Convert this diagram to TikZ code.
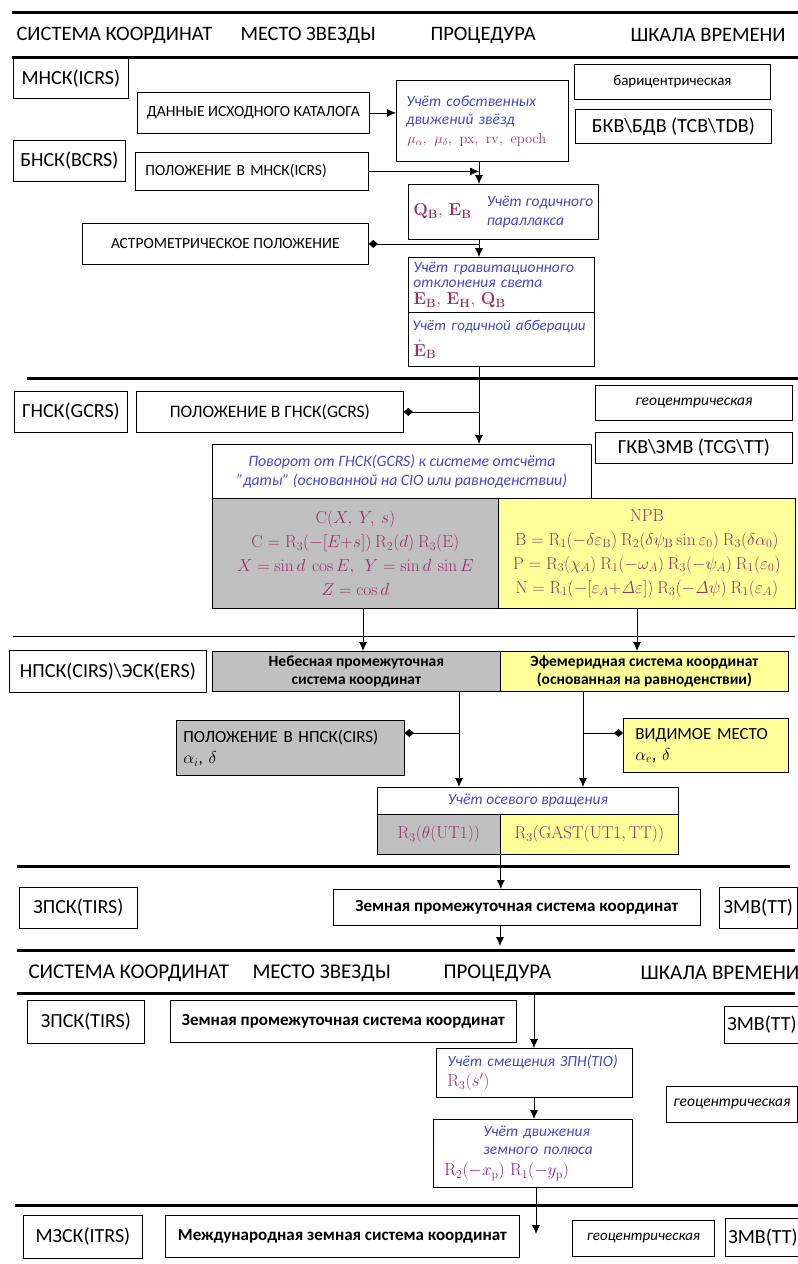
\documentclass[tikz,border=0pt]{standalone}
\usepackage[no-math]{fontspec}
\setmainfont{Carlito}
\usepackage{amsmath}
\usetikzlibrary{arrows.meta,calc}
\definecolor{formula}{HTML}{993366}
\definecolor{polar}{HTML}{8B1A8B}
\definecolor{procblue}{HTML}{4545D0}
\definecolor{cioGray}{HTML}{C0C0C0}
\definecolor{eqYellow}{HTML}{FFFF99}
\newcommand{\proc}[1]{{\color{procblue}\itshape #1}}
\newcommand{\frm}[1]{{\color{formula}#1}}
\newcommand{\fs}[1]{\fontsize{#1}{1.25\dimexpr#1pt\relax}\selectfont}
\tikzset{
  box/.style 2 args={draw, line width=0.8pt, anchor=north west,
    minimum width=#1, minimum height=#2, inner sep=3pt, align=center},
  rule/.style={line width=3pt},
  arr/.style={-{Latex[length=9pt,width=8pt]}, line width=0.8pt},
  dia/.style={{Diamond[length=9pt,width=8pt]}-, line width=0.8pt},
  head/.style={anchor=west, font=\fs{20.5}},
  big/.style={font=\fs{20}},
  caps/.style={font=\fs{15.5}},
}

\begin{document}
\begin{tikzpicture}[x=1pt,y=-1pt]
  \useasboundingbox (0,0) rectangle (798,1264);
  % rules
  \draw[rule] (12,12) -- (798,12);
  \draw[rule] (12,57) -- (798,57);
  \draw[rule] (27,378) -- (798,378);
  \draw[line width=1pt] (13,636) -- (795,636);
  \draw[rule] (17,866) -- (790,866);
  \draw[rule] (17,950) -- (795,950);
  \draw[rule] (17,993) -- (795,993);
  \draw[rule] (15,1205) -- (798,1205);
  % headers
  \node[head] (h1a) at (13,35) {СИСТЕМА КООРДИНАТ};
  \node[head] (h1b) at (237,35) {МЕСТО ЗВЕЗДЫ};
  \node[head] (h1c) at (427,35) {ПРОЦЕДУРА};
  \node[head] (h1d) at (627,35) {ШКАЛА ВРЕМЕНИ};
  \node[head, font=\fs{21}] (h2a) at (25,973) {СИСТЕМА КООРДИНАТ};
  \node[head, font=\fs{21}] (h2b) at (249,973) {МЕСТО ЗВЕЗДЫ};
  \node[head, font=\fs{21}] (h2c) at (440,973) {ПРОЦЕДУРА};
  \node[head, font=\fs{21}] (h2d) at (637,973) {ШКАЛА ВРЕМЕНИ};

  % barycentric part
  \node[box={115}{40}, big] (icrs) at (13,58) {МНСК(ICRS)};
  \node[box={112}{41}, big] (bcrs) at (13,140) {БНСК(BCRS)};
  \node[box={232}{41}, caps] (cat) at (137,92) {ДАННЫЕ ИСХОДНОГО КАТАЛОГА};
  \node[box={233}{38}, caps, align=left, text width=213, inner sep=10pt] (posm) at (135,152) {ПОЛОЖЕНИЕ В МНСК(ICRS)};
  \node[box={286}{41}, caps] (astro) at (82,223) {АСТРОМЕТРИЧЕСКОЕ ПОЛОЖЕНИЕ};
  \node[box={172}{81}, font=\fs{15.5}, align=left, text width=152, inner sep=10pt] (pm) at (396,80)
    {\proc{Учёт собственных}\\[-1pt]\proc{движений звёзд}\\[-1pt]
     \hspace*{1pt}\frm{\fs{14}$\mu_{\alpha},\ \mu_{\delta},\ \mathrm{px},\ \mathrm{rv},\ \mathrm{epoch}$}};
  \node[box={190}{55}, font=\fs{15.5}] (qb) at (408,184)
    {\frm{\fs{17}$\mathbf{Q}_{\mathbf{B}},\,\mathbf{E}_{\mathbf{B}}$}\quad
     \proc{\begin{tabular}{@{}l@{}}Учёт годичного\\параллакса\end{tabular}}};
  \node[box={186}{55}, font=\fs{15.5}, align=left, text width=182, inner sep=2pt] (grav) at (408,257)
    {\hspace*{3pt}\proc{Учёт гравитационного}\\[-4pt]\hspace*{3pt}\proc{отклонения света}\\[-2pt]
     \hspace*{3pt}\frm{\fs{17}$\mathbf{E}_{\mathbf{B}},\,\mathbf{E}_{\mathbf{H}},\,\mathbf{Q}_{\mathbf{B}}$}};
  \node[box={186}{54}, font=\fs{15}, align=left, text width=182, inner sep=2pt] (aber) at (408,312)
    {\hspace*{2pt}\proc{Учёт годичной абберации}\\[7pt]
     \hspace*{3pt}\frm{\fs{17}$\dot{\mathbf{E}}_{\mathbf{B}}$}};
  \node[box={196}{35}, font=\fs{15}] (bary) at (574,64) {барицентрическая};
  \node[box={196}{34}, big] (tcb) at (575,109) {БКВ\textbackslash БДВ (TCB\textbackslash TDB)};

  % geocentric part
  \node[box={113}{41}, big] (gcrs) at (14,391) {ГНСК(GCRS)};
  \node[box={267}{41}, font=\fs{17.5}] (posg) at (136,391) {ПОЛОЖЕНИЕ В ГНСК(GCRS)};
  \node[box={197}{35}, font=\fs{15.5}\itshape] (geo1) at (595,385) {геоцентрическая};
  \node[box={197}{31}, big] (tcg) at (595,432) {ГКВ\textbackslash ЗМВ (TCG\textbackslash TT)};
  \node[box={379}{54}, font=\fs{15.8}] (rot) at (212,444)
    {\proc{Поворот от ГНСК(GCRS) к системе отсчёта}\\
     \proc{"даты" (основанной на CIO или равноденствии)}};
  \node[box={286}{110}, fill=cioGray, font=\fontsize{16.5}{24}\selectfont] (cmat) at (212,498)
    {\frm{$\mathrm{C}(X,\ Y,\ s)$}\\
     \frm{$\mathrm{C}=\mathrm{R}_3(-[E{+}s])\ \mathrm{R}_2(d)\ \mathrm{R}_3(\mathrm{E})$}\\
     \frm{$X=\sin d\ \cos E,\ \ Y=\sin d\ \sin E$}\\
     \frm{$Z=\cos d$}};
  \node[box={297}{110}, fill=eqYellow, font=\fontsize{17.5}{24}\selectfont, inner sep=1pt] (npb) at (498,498)
    {\frm{$\mathrm{NPB}$}\\
     \frm{$\mathrm{B}=\mathrm{R}_1(-\delta\varepsilon_{\mathrm{B}})\ \mathrm{R}_2(\delta\psi_{\mathrm{B}}\sin\varepsilon_0)\ \mathrm{R}_3(\delta\alpha_0)$}\\
     \frm{$\mathrm{P}=\mathrm{R}_3(\chi_A)\ \mathrm{R}_1(-\omega_A)\ \mathrm{R}_3(-\psi_A)\ \mathrm{R}_1(\varepsilon_0)$}\\
     \frm{$\mathrm{N}=\mathrm{R}_1(-[\varepsilon_A{+}\mathit{\Delta}\varepsilon])\ \mathrm{R}_3(-\mathit{\Delta}\psi)\ \mathrm{R}_1(\varepsilon_A)$}};

  % intermediate part
  \node[box={197}{42}, big] (cirs) at (9,650) {НПСК(CIRS)\textbackslash ЭСК(ERS)};
  \node[box={288}{40}, fill=cioGray, font=\fs{15.5}\bfseries] (neb) at (212,651)
    {Небесная промежуточная\\[-2pt]система координат};
  \node[box={288}{40}, fill=eqYellow, font=\fs{15.5}\bfseries] (eph) at (500,651)
    {Эфемеридная система координат\\[-2pt](основанная на равноденствии)};
  \node[box={228}{55}, fill=cioGray, font=\fs{17}, align=left, text width=214, inner sep=7pt] (posc) at (176,720)
    {ПОЛОЖЕНИЕ В НПСК(CIRS)\\ $\alpha_i$, $\delta$};
  \node[box={165}{54}, fill=eqYellow, font=\fs{17}, align=left, text width=149, inner sep=8pt] (vis) at (623,718)
    {\hspace*{4pt}ВИДИМОЕ МЕСТО\\ \hspace*{4pt}$\alpha_e$, $\delta$};
  \node[box={301}{27}, font=\fs{15.5}] (axis) at (377,787) {\proc{Учёт осевого вращения}};
  \node[box={123}{40}, fill=cioGray, font=\fs{17}] (r3a) at (377,814)
    {\frm{$\mathrm{R}_3(\theta(\mathrm{UT1}))$}};
  \node[box={178}{40}, fill=eqYellow, font=\fs{17.5}, inner sep=1pt] (r3b) at (500,814)
    {\frm{$\mathrm{R}_3(\mathrm{GAST}(\mathrm{UT1,TT}))$}};

  % terrestrial part
  \node[box={118}{41}, big] (tirs1) at (19,887) {ЗПСК(TIRS)};
  \node[box={367}{36}, font=\fs{17}\bfseries] (zem1) at (333,889) {Земная промежуточная система координат};
  \node[box={78}{41}, big] (zmv1) at (719,887) {ЗМВ(TT)};
  \node[box={117}{43}, big] (tirs2) at (27,1000) {ЗПСК(TIRS)};
  \node[box={346}{42}, font=\fs{17}\bfseries] (zem2) at (170,1000) {Земная промежуточная система координат};
  \node[box={73}{37}, big] (zmv2) at (724,1006) {ЗМВ(TT)};
  \node[box={196}{49}, font=\fs{15.5}, align=left, text width=186, inner sep=5pt] (tio) at (436,1048)
    {\hspace*{6pt}\proc{Учёт смещения ЗПН(TIO)}\\[1pt]
     \hspace*{6pt}\frm{\fs{18}$\mathrm{R}_3(s')$}};
  \node[box={199}{68}, font=\fs{15.5}, align=left, text width=187, inner sep=6pt] (pol) at (433,1119)
    {\hspace*{44pt}\proc{Учёт движения}\\[-2pt]\hspace*{44pt}\proc{земного полюса}\\[2pt]
     \hspace*{5pt}{\color{polar}\fs{17}$\mathrm{R}_2(-x_{\mathrm{p}})\ \mathrm{R}_1(-y_{\mathrm{p}})$}};
  \node[box={131}{36}, font=\fs{15.5}\itshape] (geo2) at (666,1086) {геоцентрическая};
  \node[box={119}{43}, big] (itrs) at (23,1215) {МЗСК(ITRS)};
  \node[box={354}{42}, font=\fs{17}\bfseries] (intl) at (165,1215) {Международная земная система координат};
  \node[box={142}{36}, font=\fs{15}\itshape] (geo3) at (572,1220) {геоцентрическая};
  \node[box={72}{38}, big] (zmv3) at (725,1218) {ЗМВ(TT)};

  % columns of the procedure line
  \coordinate (c1) at (479,0);
  \coordinate (c2) at (459,0);
  \coordinate (c3) at (583,0);
  \coordinate (c4) at (363,0);
  \coordinate (c5) at (637,0);
  \coordinate (c6) at (534,0);
  \coordinate (e1) at (500,946);
  \coordinate (s1) at (534,993);
  \coordinate (e2) at (536,1234);

  % connectors
  \draw[arr] (cat.east) -- (cat.east -| pm.west);
  \draw[arr] (posm.east) -- (posm.east -| c1);
  \draw[arr] (pm.south -| c1) -- (qb.north -| c1);
  \draw[dia] (astro.east) -- (astro.east -| c1);
  \draw[arr] (qb.south -| c1) -- (grav.north -| c1);
  \draw[arr] (aber.south -| c1) -- (rot.north -| c1);
  \draw[dia] (posg.east) -- (posg.east -| c1);
  \draw[arr] (cmat.south -| c4) -- (neb.north -| c4);
  \draw[arr] (npb.south -| c5) -- (eph.north -| c5);
  \draw[arr] (neb.south -| c2) -- (axis.north -| c2);
  \draw[arr] (eph.south -| c3) -- (axis.north -| c3);
  \draw[dia] (posc.east |- 0,733) -- (c2 |- 0,733);
  \draw[dia] (vis.west |- 0,733) -- (c3 |- 0,733);
  \draw[arr] (r3a.south east) -- (r3a.south east |- zem1.north);
  \draw[arr] (zem1.south -| e1) -- (e1);
  \draw[arr] (s1) -- (s1 |- tio.north);
  \draw[arr] (tio.south -| c6) -- (pol.north -| c6);
  \draw[arr] (pol.south -| e2) -- (e2);
\end{tikzpicture}
\end{document}
